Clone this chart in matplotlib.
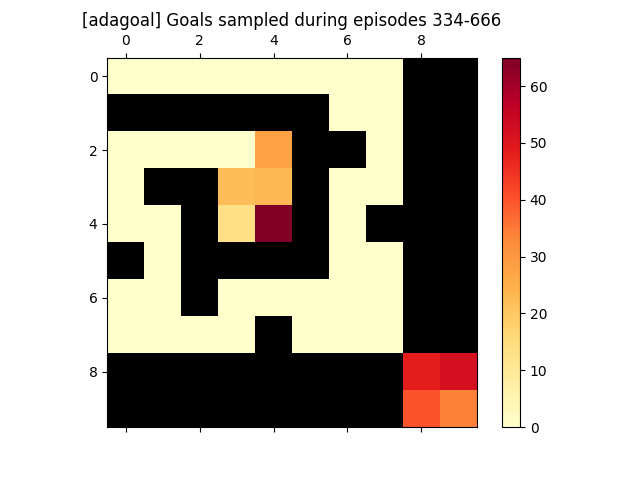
import matplotlib
matplotlib.use("Agg")
import matplotlib.pyplot as plt
import numpy as np

nan = np.nan

# goal sample counts per cell, nan = wall
row0 = [0, 0, 0, 0, 0, 0, 0, 0, nan, nan]
row1 = [nan, nan, nan, nan, nan, nan, 0, 0, nan, nan]
row2 = [0, 0, 0, 0, 28, nan, nan, 0, nan, nan]
row3 = [0, nan, nan, 22, 23, nan, 0, 0, nan, nan]
row4 = [0, 0, nan, 13, 65, nan, 0, nan, nan, nan]
row5 = [nan, 0, nan, nan, nan, nan, 0, 0, nan, nan]
row6 = [0, 0, nan, 0, 0, 0, 0, 0, nan, nan]
row7 = [0, 0, 0, 0, nan, 0, 0, 0, nan, nan]
row8 = [nan, nan, nan, nan, nan, nan, nan, nan, 48, 52]
row9 = [nan, nan, nan, nan, nan, nan, nan, nan, 40, 34]

grid = np.array([row0, row1, row2, row3, row4, row5, row6, row7, row8, row9])
masked = np.ma.masked_invalid(grid)

cmap = plt.get_cmap("YlOrRd").copy()
cmap.set_bad("black")

fig, ax = plt.subplots(figsize=(6.4, 4.8), dpi=100)
im = ax.matshow(masked, cmap=cmap, vmin=0, vmax=65)
fig.colorbar(im, ax=ax)
ax.set_title("[adagoal] Goals sampled during episodes 334-666")
fig.savefig("out.png")
